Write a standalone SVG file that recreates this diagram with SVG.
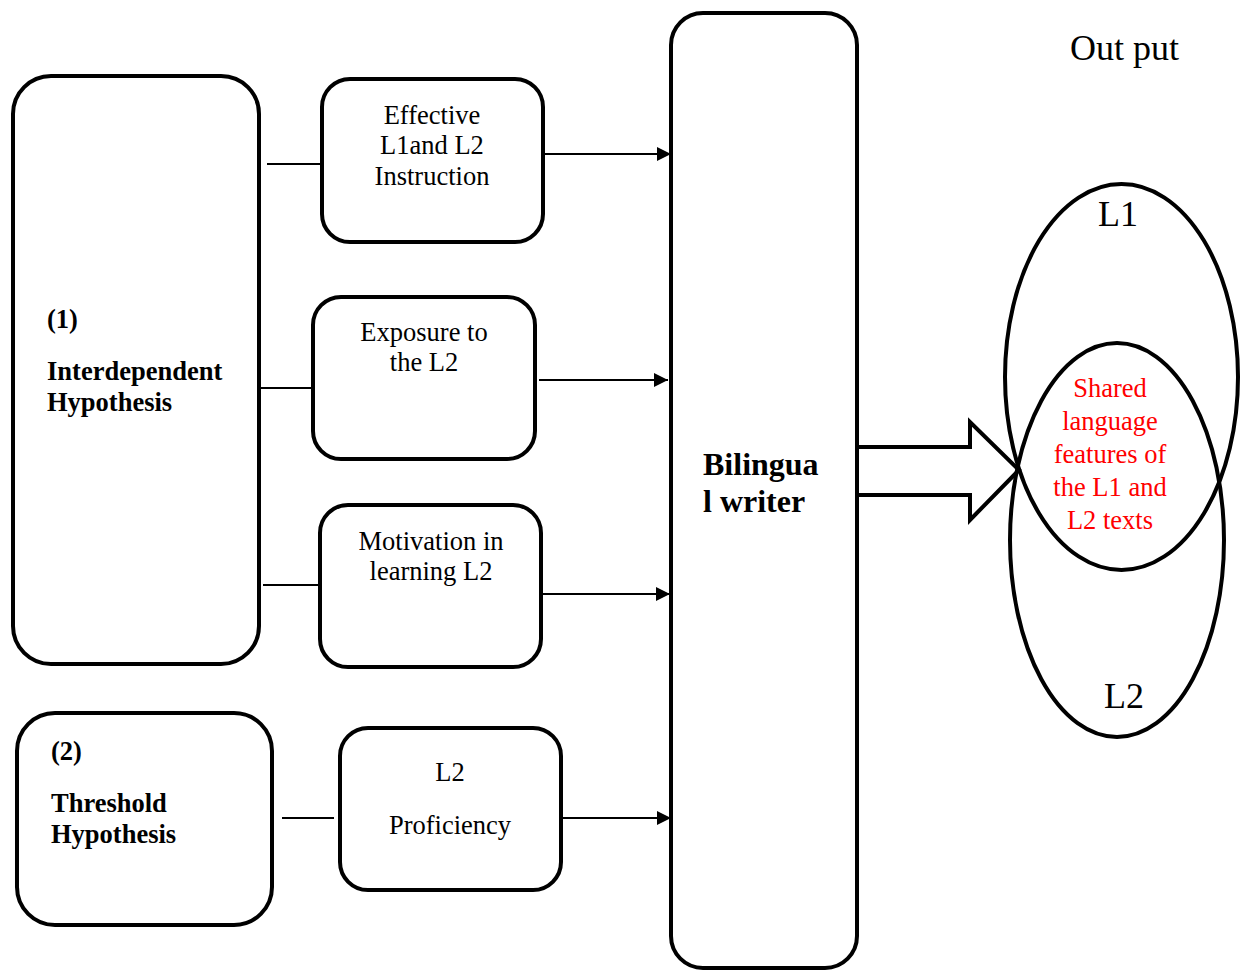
<svg xmlns="http://www.w3.org/2000/svg" width="1246" height="970" viewBox="0 0 1246 970">
  <style>
    .box { fill: none; stroke: #000; stroke-width: 4; }
    .link { fill: none; stroke: #000; stroke-width: 2; }
    .txt { font-family: "Liberation Serif", "Times New Roman", serif; font-size: 26.5px; fill: #000; }
    .big { font-size: 36px; }
    .title { font-size: 32px; }
    .mid { text-anchor: middle; }
    .bold { font-weight: bold; }
    .red { fill: #ff0000; }
  </style>
  <defs>
    <marker id="tip" viewBox="0 0 14 14" refX="14" refY="7" markerWidth="14" markerHeight="14" orient="auto" markerUnits="userSpaceOnUse">
      <path d="M0,0 L14,7 L0,14 Z" fill="#000"/>
    </marker>
  </defs>
  <rect width="1246" height="970" fill="#fff"/>

  <g id="interdependent">
    <rect class="box" x="13" y="76" width="246" height="588" rx="38"/>
    <text class="txt bold" x="47" y="328">(1)</text>
    <text class="txt bold" x="47" y="380">Interdependent</text>
    <text class="txt bold" x="47" y="411">Hypothesis</text>
  </g>

  <g id="threshold">
    <rect class="box" x="17" y="713" width="255" height="212" rx="38"/>
    <text class="txt bold" x="51" y="760">(2)</text>
    <text class="txt bold" x="51" y="812">Threshold</text>
    <text class="txt bold" x="51" y="843">Hypothesis</text>
  </g>

  <g id="instruction">
    <rect class="box" x="322" y="79" width="221" height="163" rx="28"/>
    <text class="txt mid" x="432" y="124">Effective</text>
    <text class="txt mid" x="432" y="154">L1and L2</text>
    <text class="txt mid" x="432" y="185">Instruction</text>
  </g>

  <g id="exposure">
    <rect class="box" x="313" y="297" width="222" height="162" rx="28"/>
    <text class="txt mid" x="424" y="341">Exposure to</text>
    <text class="txt mid" x="424" y="371">the L2</text>
  </g>

  <g id="motivation">
    <rect class="box" x="320" y="505" width="221" height="162" rx="28"/>
    <text class="txt mid" x="431" y="550">Motivation in</text>
    <text class="txt mid" x="431" y="580">learning L2</text>
  </g>

  <g id="proficiency">
    <rect class="box" x="340" y="728" width="221" height="162" rx="28"/>
    <text class="txt mid" x="450" y="781">L2</text>
    <text class="txt mid" x="450" y="834">Proficiency</text>
  </g>

  <g id="writer">
    <rect class="box" x="671" y="13" width="186" height="955" rx="32"/>
    <text class="txt bold title" x="703" y="475">Bilingua</text>
    <text class="txt bold title" x="703" y="512">l writer</text>
  </g>

  <g id="output">
    <text class="txt big" x="1070" y="60">Out put</text>
    <ellipse class="box" cx="1121.5" cy="377" rx="116.5" ry="193"/>
    <ellipse class="box" cx="1117" cy="540" rx="107" ry="197"/>
    <text class="txt big" x="1098" y="226">L1</text>
    <text class="txt big" x="1104" y="708">L2</text>
    <text class="txt mid red" x="1110" y="397">Shared</text>
    <text class="txt mid red" x="1110" y="430">language</text>
    <text class="txt mid red" x="1110" y="463">features of</text>
    <text class="txt mid red" x="1110" y="496">the L1 and</text>
    <text class="txt mid red" x="1110" y="529">L2 texts</text>
  </g>

  <g id="connectors">
    <line class="link" x1="267" y1="164" x2="322" y2="164"/>
    <line class="link" x1="545" y1="154" x2="671" y2="154" marker-end="url(#tip)"/>
    <line class="link" x1="259" y1="388" x2="313" y2="388"/>
    <line class="link" x1="539" y1="380" x2="668" y2="380" marker-end="url(#tip)"/>
    <line class="link" x1="263" y1="585" x2="320" y2="585"/>
    <line class="link" x1="543" y1="594" x2="670" y2="594" marker-end="url(#tip)"/>
    <line class="link" x1="282" y1="818" x2="334" y2="818"/>
    <line class="link" x1="563" y1="818" x2="671" y2="818" marker-end="url(#tip)"/>
    <path class="box" d="M859,447 L970,447 L970,422 L1019,470 L970,520 L970,495 L859,495"/>
  </g>
</svg>
